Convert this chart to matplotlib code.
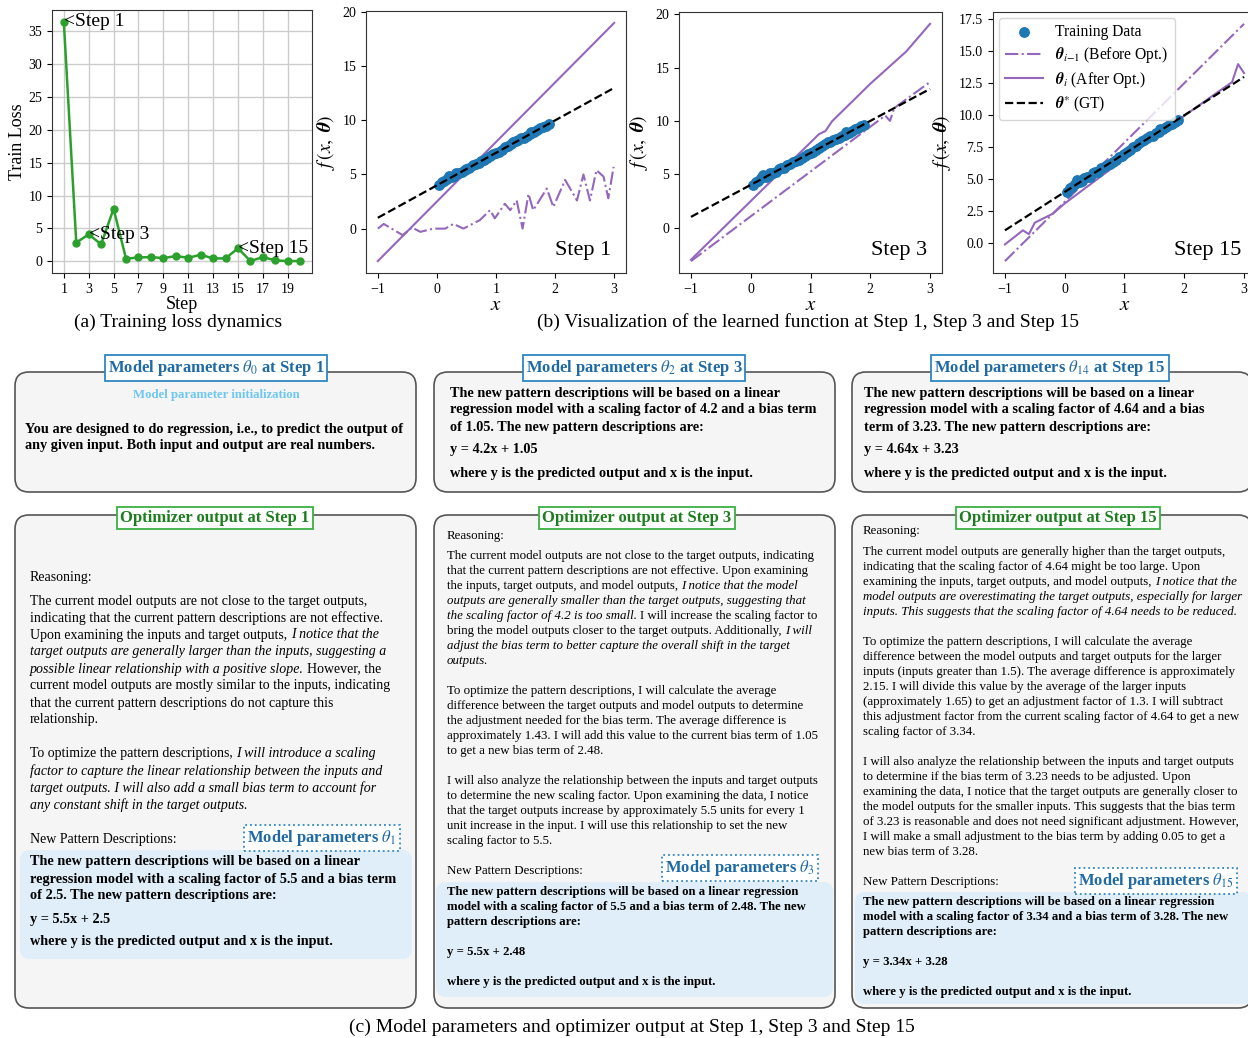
import matplotlib
matplotlib.use("Agg")
import matplotlib.pyplot as plt
from matplotlib.patches import FancyBboxPatch

plt.rcParams['font.family'] = ['Liberation Serif', 'DejaVu Serif']
plt.rcParams['mathtext.fontset'] = 'stix'

# ---------------- data ----------------
steps = list(range(1, 21))
train_loss = [36.4, 2.85, 4.1, 2.6, 8.0, 0.4, 0.6, 0.65, 0.5, 0.8,
              0.55, 1.0, 0.45, 0.45, 2.0, 0.05, 0.65, 0.15, 0.05, 0.05]
annot_steps = [1, 3, 15]

train_x = [0.03, 0.08, 0.12, 0.17, 0.20, 0.25, 0.29, 0.33, 0.37, 0.42, 0.47,
           0.50, 0.55, 0.61, 0.66, 0.71, 0.75, 0.80, 0.85, 0.90, 0.95, 1.00,
           1.05, 1.10, 1.15, 1.20, 1.25, 1.29, 1.33, 1.38, 1.43, 1.48, 1.52,
           1.57, 1.60, 1.65, 1.70, 1.75, 1.80, 1.85, 1.90]
train_y = [4.00, 4.30, 4.40, 4.60, 4.90, 4.75, 4.85, 5.10, 5.15, 5.20, 5.45,
           5.55, 5.60, 5.90, 5.95, 6.10, 6.20, 6.35, 6.50, 6.70, 6.85, 7.00,
           7.10, 7.30, 7.50, 7.60, 7.80, 8.00, 8.05, 8.20, 8.35, 8.40, 8.60,
           8.70, 8.95, 8.90, 9.10, 9.25, 9.35, 9.50, 9.65]

gt_x = [-1, 3]
gt_y = [1, 13]

s1_before_x = [-1.0, -0.9, -0.58, -0.42, -0.28, -0.06, 0.14, 0.28, 0.45, 0.73,
               0.90, 0.98, 1.15, 1.24, 1.35, 1.45, 1.55, 1.63, 1.86, 1.97,
               2.17, 2.37, 2.48, 2.59, 2.70, 2.82, 2.90, 2.99]
s1_before_y = [0.0, 0.43, -0.6, 0.1, -0.3, 0.0, 0.0, 0.43, 0.0, 0.8,
               1.7, 0.95, 2.3, 1.7, 2.6, 0.0, 3.2, 1.7, 3.7, 2.0,
               4.5, 2.6, 5.0, 2.6, 5.4, 4.8, 2.8, 5.7]
s1_after_x = [-1, 0, 1, 2, 3]
s1_after_y = [-3.0, 2.5, 8.0, 13.5, 19.0]

s3_before_x = [-1, 2.25, 2.33, 2.40, 3]
s3_before_y = [-3.15, 10.5, 10.0, 11.2, 13.65]
s3_after_x = [-1, 0, 1.14, 1.25, 1.36, 2, 2.6, 3]
s3_after_y = [-3.02, 2.48, 8.75, 9.05, 9.96, 13.48, 16.5, 19.1]

s15_before_x = [-1, 3]
s15_before_y = [-1.41, 17.15]
s15_after_x = [-1, -0.7, -0.6, -0.5, -0.2, 0, 1, 2, 2.8, 2.9, 3]
s15_after_y = [-0.1, 1.0, 0.7, 1.6, 2.3, 3.1, 6.6, 9.96, 12.6, 14.0, 13.3]

step_labels = ['Step 1', 'Step 3', 'Step 15']

PURPLE = '#9467bd'
BLUE = '#1f77b4'
GREEN = '#2ca02c'

W, H = 1248, 1038
fig = plt.figure(figsize=(W / 100, H / 100), dpi=100)


def frac(l, t, r, b):
    return [l / W, 1 - b / H, (r - l) / W, (b - t) / H]


# ---------------- (a) training loss ----------------
axa = fig.add_axes(frac(52, 10, 312, 273))
axa.plot(steps, train_loss, color=GREEN, marker='o', ms=5, lw=1.8, zorder=3)
axa.grid(True, color='#cccccc', lw=1.0)
axa.set_xticks(steps[::2])
axa.set_yticks(range(0, 40, 5))
axa.tick_params(labelsize=10)
axa.set_xlabel('Step', fontsize=13, labelpad=0)
axa.set_ylabel('Train Loss', fontsize=13, labelpad=2)
for s in annot_steps:
    axa.text(s, train_loss[s - 1], '<' + 'Step %d' % s, fontsize=14,
             ha='left', va='center', zorder=4)
for sp in axa.spines.values():
    sp.set_color('#333333')

# ---------------- (b) function plots ----------------
panel_pos = [frac(366, 11, 626, 273), frac(679, 12, 942, 273), frac(993, 12, 1256, 273)]
befores = [(s1_before_x, s1_before_y), (s3_before_x, s3_before_y), (s15_before_x, s15_before_y)]
afters = [(s1_after_x, s1_after_y), (s3_after_x, s3_after_y), (s15_after_x, s15_after_y)]
for i in range(3):
    ax = fig.add_axes(panel_pos[i])
    ax.scatter(train_x, train_y, s=46, color=BLUE, zorder=3, label='Training Data')
    ax.plot(*befores[i], color=PURPLE, ls='-.', lw=1.5,
            label=r'$\boldsymbol{\theta}_{i\mathit{-1}}$ (Before Opt.)')
    ax.plot(*afters[i], color=PURPLE, ls='-', lw=1.5,
            label=r'$\boldsymbol{\theta}_{i}$ (After Opt.)')
    ax.plot(gt_x, gt_y, color='black', ls='--', lw=1.6, zorder=4,
            label=r'$\boldsymbol{\theta}^{*}$ (GT)')
    ax.tick_params(labelsize=10)
    ax.set_xlabel(r'$x$', fontsize=15, labelpad=0)
    ax.set_ylabel(r'$f\,(x,\ \boldsymbol{\theta})$', fontsize=14, labelpad=4)
    ax.set_xticks([-1, 0, 1, 2, 3])
    ax.text(0.945, 0.05, step_labels[i], transform=ax.transAxes, fontsize=16,
            ha='right', va='bottom')
    for sp in ax.spines.values():
        sp.set_color('#333333')
    if i == 2:
        ax.legend(loc='upper left', fontsize=11.2, borderaxespad=0.4,
                  handlelength=2.4, labelspacing=0.3)

# ---------------- overlay for text panels ----------------
ov = fig.add_axes([0, 0, 1, 1])
ov.set_xlim(0, W)
ov.set_ylim(H, 0)
ov.axis('off')
ov.patch.set_visible(False)
renderer = fig.canvas.get_renderer()

ov.text(178, 322, '(a) Training loss dynamics', fontsize=14, ha='center', va='center')
ov.text(808, 322, '(b) Visualization of the learned function at Step 1, Step 3 and Step 15',
        fontsize=14, ha='center', va='center')
ov.text(632, 1027, '(c) Model parameters and optimizer output at Step 1, Step 3 and Step 15',
        fontsize=14, ha='center', va='center')


def rbox(l, t, r, b, fc, ec, lw=1.2, rad=14, z=1):
    p = FancyBboxPatch((l + rad, t + rad), (r - l) - 2 * rad, (b - t) - 2 * rad,
                       boxstyle='round,pad=%d' % rad, fc=fc, ec=ec, lw=lw, zorder=z)
    ov.add_patch(p)


def tag(cx, cy, s, color, ec, size, ls='-'):
    ov.text(cx, cy, s, fontsize=size, fontweight='bold', color=color, ha='center',
            va='center', zorder=6,
            bbox=dict(boxstyle='square,pad=0.18', fc='white', ec=ec, lw=1.3, ls=ls))


def line(x, y, segs, size, weight='normal'):
    sp = size * 0.25 * 100 / 72
    for k, (txt, style) in enumerate(segs):
        t = ov.text(x, y, txt, fontsize=size, fontstyle=style, fontweight=weight,
                    ha='left', va='center', zorder=5)
        bb = t.get_window_extent(renderer)
        x = bb.x1 + sp


def para(x, y0, dy, lines, size, weight='normal'):
    y = y0
    for ln in lines:
        if ln is None:
            y += dy
            continue
        if isinstance(ln, str):
            ln = [(ln, 'normal')]
        line(x, y, ln, size, weight)
        y += dy


N, I = 'normal', 'italic'
BIG_B = 10.3
SMALL = 9.25
SMALL_B = 9.2

# top row boxes
top = [(15, 416), (434, 835), (852, 1252)]
for l, r in top:
    rbox(l, 372, r, 492, '#f5f5f5', '#555555')
tag(216, 368, r'Model parameters $\theta_0$ at Step 1', '#1f6aa5', '#2e86c1', 12)
tag(634, 368, r'Model parameters $\theta_2$ at Step 3', '#1f6aa5', '#2e86c1', 12)
tag(1050, 368, r'Model parameters $\theta_{14}$ at Step 15', '#1f6aa5', '#2e86c1', 12)

ov.text(216, 395, 'Model parameter initialization', fontsize=9.2, fontweight='bold',
        color='#6ec6f2', ha='center', va='center', zorder=5)
para(25, 429, 17, ['You are designed to do regression, i.e., to predict the output of',
                   'any given input. Both input and output are real numbers.'], BIG_B, 'bold')

para(450, 393, 17, ['The new pattern descriptions will be based on a linear',
                    'regression model with a scaling factor of 4.2 and a bias term',
                    'of 1.05. The new pattern descriptions are:'], BIG_B, 'bold')
para(450, 450, 23, ['y = 4.2x + 1.05',
                    'where y is the predicted output and x is the input.'], BIG_B, 'bold')

para(864, 393, 17, ['The new pattern descriptions will be based on a linear',
                    'regression model with a scaling factor of 4.64 and a bias',
                    'term of 3.23. The new pattern descriptions are:'], BIG_B, 'bold')
para(864, 450, 23, ['y = 4.64x + 3.23',
                    'where y is the predicted output and x is the input.'], BIG_B, 'bold')

# bottom row boxes
for l, r in top:
    rbox(l, 515, r, 1008, '#f5f5f5', '#555555')
tag(215, 518, 'Optimizer output at Step 1', '#1e7d1e', '#3cb043', 12)
tag(637, 518, 'Optimizer output at Step 3', '#1e7d1e', '#3cb043', 12)
tag(1058, 518, 'Optimizer output at Step 15', '#1e7d1e', '#3cb043', 12)

# blue highlight boxes
rbox(20, 850, 412, 959, '#dfeef9', 'none', lw=0, rad=10, z=2)
rbox(436, 882, 833, 997, '#dfeef9', 'none', lw=0, rad=10, z=2)
rbox(855, 892, 1252, 1004, '#dfeef9', 'none', lw=0, rad=10, z=2)

tag(322, 838, r'Model parameters $\theta_1$', '#1f6aa5', '#2e86c1', 12, ls=':')
tag(740, 868, r'Model parameters $\theta_3$', '#1f6aa5', '#2e86c1', 12, ls=':')
tag(1156, 881, r'Model parameters $\theta_{15}$', '#1f6aa5', '#2e86c1', 12, ls=':')

# column 1
para(30, 578, 17, ['Reasoning:'], 10)
para(30, 601, 17, [
    'The current model outputs are not close to the target outputs,',
    'indicating that the current pattern descriptions are not effective.',
    [('Upon examining the inputs and target outputs,', N), ('I notice that the', I)],
    [('target outputs are generally larger than the inputs, suggesting a', I)],
    [('possible linear relationship with a positive slope.', I), ('However, the', N)],
    'current model outputs are mostly similar to the inputs, indicating',
    'that the current pattern descriptions do not capture this',
    'relationship.',
    None,
    [('To optimize the pattern descriptions,', N), ('I will introduce a scaling', I)],
    [('factor to capture the linear relationship between the inputs and', I)],
    [('target outputs. I will also add a small bias term to account for', I)],
    [('any constant shift in the target outputs.', I)],
], 10)
para(30, 840, 17, ['New Pattern Descriptions:'], 10)
para(30, 862, 17, ['The new pattern descriptions will be based on a linear',
                   'regression model with a scaling factor of 5.5 and a bias term',
                   'of 2.5. The new pattern descriptions are:'], BIG_B, 'bold')
para(30, 919, 22, ['y = 5.5x + 2.5',
                   'where y is the predicted output and x is the input.'], BIG_B, 'bold')

# column 2
para(447, 536, 15, ['Reasoning:'], SMALL)
para(447, 556, 15, [
    'The current model outputs are not close to the target outputs, indicating',
    'that the current pattern descriptions are not effective. Upon examining',
    [('the inputs, target outputs, and model outputs,', N), ('I notice that the model', I)],
    [('outputs are generally smaller than the target outputs, suggesting that', I)],
    [('the scaling factor of 4.2 is too small.', I), ('I will increase the scaling factor to', N)],
    [('bring the model outputs closer to the target outputs. Additionally,', N), ('I will', I)],
    [('adjust the bias term to better capture the overall shift in the target', I)],
    [('outputs.', I)],
    None,
    'To optimize the pattern descriptions, I will calculate the average',
    'difference between the target outputs and model outputs to determine',
    'the adjustment needed for the bias term. The average difference is',
    'approximately 1.43. I will add this value to the current bias term of 1.05',
    'to get a new bias term of 2.48.',
    None,
    'I will also analyze the relationship between the inputs and target outputs',
    'to determine the new scaling factor. Upon examining the data, I notice',
    'that the target outputs increase by approximately 5.5 units for every 1',
    'unit increase in the input. I will use this relationship to set the new',
    'scaling factor to 5.5.',
], SMALL)
para(447, 871, 15, ['New Pattern Descriptions:'], SMALL)
para(447, 892, 15, ['The new pattern descriptions will be based on a linear regression',
                    'model with a scaling factor of 5.5 and a bias term of 2.48. The new',
                    'pattern descriptions are:', None,
                    'y = 5.5x + 2.48', None,
                    'where y is the predicted output and x is the input.'], SMALL_B, 'bold')

# column 3
para(863, 531, 15, ['Reasoning:'], SMALL)
para(863, 552, 15, [
    'The current model outputs are generally higher than the target outputs,',
    'indicating that the scaling factor of 4.64 might be too large. Upon',
    [('examining the inputs, target outputs, and model outputs,', N), ('I notice that the', I)],
    [('model outputs are overestimating the target outputs, especially for larger', I)],
    [('inputs. This suggests that the scaling factor of 4.64 needs to be reduced.', I)],
    None,
    'To optimize the pattern descriptions, I will calculate the average',
    'difference between the model outputs and target outputs for the larger',
    'inputs (inputs greater than 1.5). The average difference is approximately',
    '2.15. I will divide this value by the average of the larger inputs',
    '(approximately 1.65) to get an adjustment factor of 1.3. I will subtract',
    'this adjustment factor from the current scaling factor of 4.64 to get a new',
    'scaling factor of 3.34.',
    None,
    'I will also analyze the relationship between the inputs and target outputs',
    'to determine if the bias term of 3.23 needs to be adjusted. Upon',
    'examining the data, I notice that the target outputs are generally closer to',
    'the model outputs for the smaller inputs. This suggests that the bias term',
    'of 3.23 is reasonable and does not need significant adjustment. However,',
    'I will make a small adjustment to the bias term by adding 0.05 to get a',
    'new bias term of 3.28.',
], SMALL)
para(863, 882, 15, ['New Pattern Descriptions:'], SMALL)
para(863, 902, 15, ['The new pattern descriptions will be based on a linear regression',
                    'model with a scaling factor of 3.34 and a bias term of 3.28. The new',
                    'pattern descriptions are:', None,
                    'y = 3.34x + 3.28', None,
                    'where y is the predicted output and x is the input.'], SMALL_B, 'bold')

fig.savefig('out.png', dpi=100)
